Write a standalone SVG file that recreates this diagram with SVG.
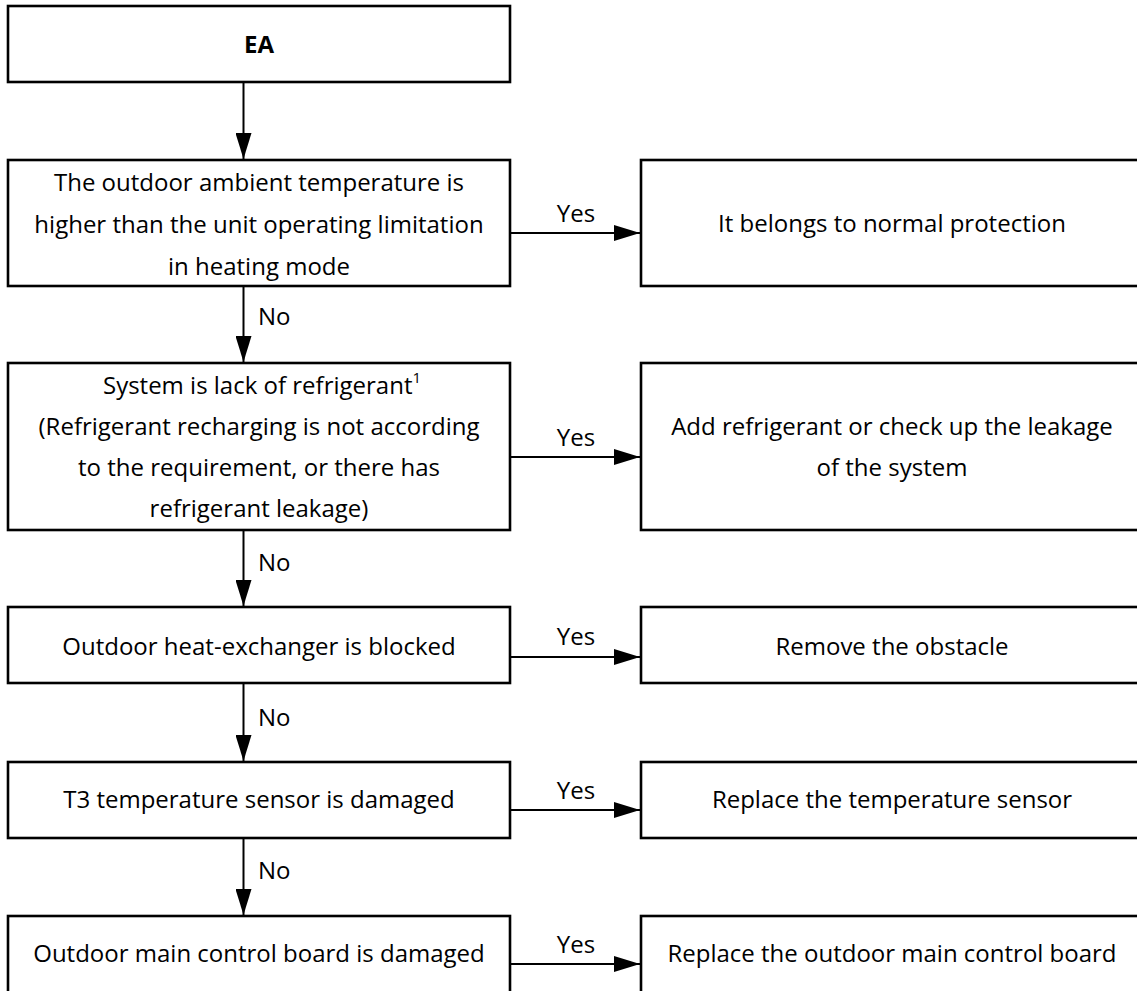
<svg xmlns="http://www.w3.org/2000/svg" width="1137" height="991" viewBox="0 0 1137 991">
<style>
.box{fill:#fff;stroke:#000;stroke-width:2.6}
.t{font-family:"Open Sans","Liberation Sans",sans-serif;font-size:24px;fill:#000;text-anchor:middle}
.lb{font-family:"Open Sans","Liberation Sans",sans-serif;font-size:24px;fill:#000}
.c{stroke:#000;stroke-width:2;fill:none;marker-end:url(#ah)}
</style>
<defs>
<marker id="ah" markerUnits="userSpaceOnUse" markerWidth="26" markerHeight="16" refX="26" refY="8" orient="auto">
<path d="M0,0 L26,8 L0,16 z" fill="#000"/>
</marker>
</defs>
<rect width="1137" height="991" fill="#fff"/>
<g id="connectors">
<line class="c" x1="243.5" y1="82" x2="243.5" y2="159"/>
<line class="c" x1="243.5" y1="286" x2="243.5" y2="362"/>
<line class="c" x1="243.5" y1="530" x2="243.5" y2="606"/>
<line class="c" x1="243.5" y1="683" x2="243.5" y2="761"/>
<line class="c" x1="243.5" y1="838" x2="243.5" y2="915"/>
<line class="c" x1="510" y1="233" x2="640" y2="233"/>
<line class="c" x1="510" y1="457" x2="640" y2="457"/>
<line class="c" x1="510" y1="657" x2="640" y2="657"/>
<line class="c" x1="510" y1="810" x2="640" y2="810"/>
<line class="c" x1="510" y1="964" x2="640" y2="964"/>
<text class="lb" x="258" y="325">No</text>
<text class="lb" x="258" y="571">No</text>
<text class="lb" x="258" y="726">No</text>
<text class="lb" x="258" y="879">No</text>
<text class="t" x="576" y="222">Yes</text>
<text class="t" x="576" y="446">Yes</text>
<text class="t" x="576" y="645">Yes</text>
<text class="t" x="576" y="799">Yes</text>
<text class="t" x="576" y="953">Yes</text>
</g>
<g id="ea">
<rect class="box" x="8" y="6" width="502" height="76"/>
<text class="t" x="259" y="53" font-weight="bold">EA</text>
</g>
<g id="q1">
<rect class="box" x="8" y="160" width="502" height="126"/>
<text class="t" x="259" y="191">The outdoor ambient temperature is</text>
<text class="t" x="259" y="233">higher than the unit operating limitation</text>
<text class="t" x="259" y="275">in heating mode</text>
</g>
<g id="a1">
<rect class="box" x="641" y="160" width="504" height="126"/>
<text class="t" x="892" y="232">It belongs to normal protection</text>
</g>
<g id="q2">
<rect class="box" x="8" y="363" width="502" height="167"/>
<text class="t" x="262" y="394">System is lack of refrigerant<tspan font-size="15" dy="-11">1</tspan></text>
<text class="t" x="259" y="435">(Refrigerant recharging is not according</text>
<text class="t" x="259" y="476">to the requirement, or there has</text>
<text class="t" x="259" y="517">refrigerant leakage)</text>
</g>
<g id="a2">
<rect class="box" x="641" y="363" width="504" height="167"/>
<text class="t" x="892" y="435">Add refrigerant or check up the leakage</text>
<text class="t" x="892" y="476">of the system</text>
</g>
<g id="q3">
<rect class="box" x="8" y="607" width="502" height="76"/>
<text class="t" x="259" y="655">Outdoor heat-exchanger is blocked</text>
</g>
<g id="a3">
<rect class="box" x="641" y="607" width="504" height="76"/>
<text class="t" x="892" y="655">Remove the obstacle</text>
</g>
<g id="q4">
<rect class="box" x="8" y="762" width="502" height="76"/>
<text class="t" x="259" y="808">T3 temperature sensor is damaged</text>
</g>
<g id="a4">
<rect class="box" x="641" y="762" width="504" height="76"/>
<text class="t" x="892" y="808">Replace the temperature sensor</text>
</g>
<g id="q5">
<rect class="box" x="8" y="916" width="502" height="90"/>
<text class="t" x="259" y="962">Outdoor main control board is damaged</text>
</g>
<g id="a5">
<rect class="box" x="641" y="916" width="504" height="90"/>
<text class="t" x="892" y="962">Replace the outdoor main control board</text>
</g>
</svg>
